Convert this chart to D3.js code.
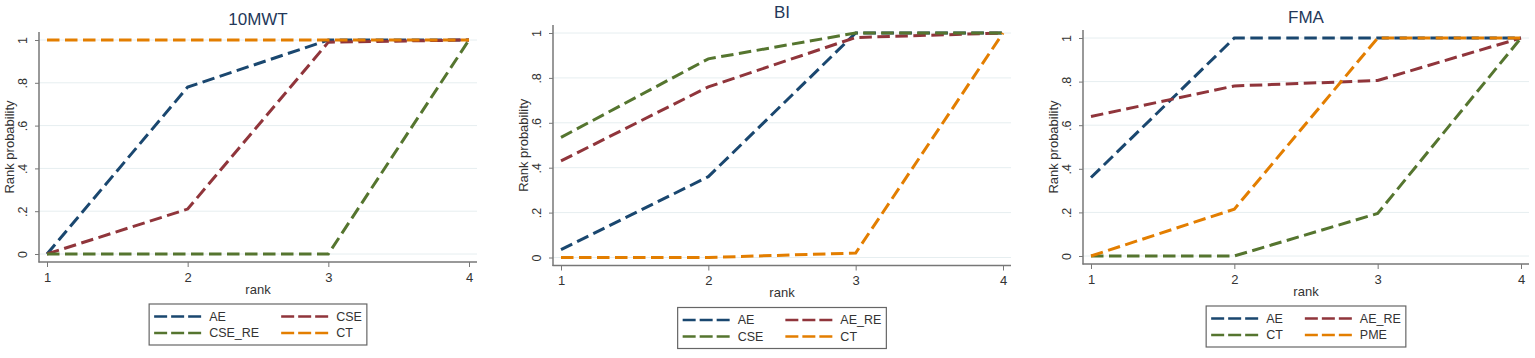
<!DOCTYPE html>
<html>
<head>
  <meta charset="utf-8">
  <title>Rank probability</title>
  <script src="https://cdn.jsdelivr.net/npm/d3@7"></script>
  <style>
    body { margin: 0; background: #fff; }
    text { font-family: "Liberation Sans", Arial, sans-serif; fill: #333; }
    .title { font-size: 17px; fill: #24385a; }
    .grid line { stroke: #e6eef0; stroke-width: 1; }
  </style>
</head>
<body>
  <svg id="chart" width="1535" height="358"></svg>

  <script>
    // data
    var ranks = [1, 2, 3, 4];
    var yTicks = [0, 0.2, 0.4, 0.6, 0.8, 1];
    var yTickLabels = ["0", ".2", ".4", ".6", ".8", "1"];
    var titles = ["10MWT", "BI", "FMA"];

    var mwtNames = ["AE", "CSE", "CSE_RE", "CT"];
    var mwtAE = [0, 0.78, 1, 1];
    var mwtCSE = [0, 0.21, 0.99, 1];
    var mwtCSE_RE = [0, 0, 0, 1];
    var mwtCT = [1, 1, 1, 1];

    var biNames = ["AE", "AE_RE", "CSE", "CT"];
    var biAE = [0.035, 0.36, 1, 1];
    var biAE_RE = [0.43, 0.76, 0.98, 1];
    var biCSE = [0.535, 0.885, 1, 1];
    var biCT = [0, 0, 0.02, 1];

    var fmaNames = ["AE", "AE_RE", "CT", "PME"];
    var fmaAE = [0.36, 1, 1, 1];
    var fmaAE_RE = [0.64, 0.78, 0.805, 1];
    var fmaCT = [0, 0, 0.195, 1];
    var fmaPME = [0, 0.215, 1, 1];

    var colors = ["#1a476f", "#90353b", "#55752f", "#e37e00"];

    // panel frames (plot region boxes)
    var panels = [
      { title: titles[0], names: mwtNames, series: [mwtAE, mwtCSE, mwtCSE_RE, mwtCT], left: 39, right: 477, top: 32, bottom: 262 },
      { title: titles[1], names: biNames, series: [biAE, biAE_RE, biCSE, biCT], left: 553, right: 1011, top: 25, bottom: 265.5 },
      { title: titles[2], names: fmaNames, series: [fmaAE, fmaAE_RE, fmaCT, fmaPME], left: 1083, right: 1529, top: 30, bottom: 264 }
    ];

    var svg = d3.select("#chart");
    var pad = 8;

    panels.forEach(function (p) {
      var g = svg.append("g");

      var x = d3.scaleLinear().domain([1, 4]).range([p.left + pad, p.right - pad]);
      var y = d3.scaleLinear().domain([0, 1]).range([p.bottom - pad, p.top + pad]);

      // gridlines
      g.append("g").attr("class", "grid")
        .selectAll("line")
        .data(yTicks)
        .enter().append("line")
        .attr("x1", p.left).attr("x2", p.right)
        .attr("y1", d => y(d)).attr("y2", d => y(d));

      // axes
      var yAxis = d3.axisLeft(y).tickValues(yTicks)
        .tickFormat((d, i) => yTickLabels[i]).tickSize(4).tickPadding(3);
      var xAxis = d3.axisBottom(x).tickValues(ranks)
        .tickFormat(d3.format("d")).tickSize(5).tickPadding(4);

      var ya = g.append("g").attr("transform", "translate(" + p.left + ",0)").call(yAxis);
      ya.select(".domain").remove();
      ya.selectAll(".tick line").attr("stroke", "#777");
      ya.selectAll(".tick text")
        .style("font-size", "12.5px")
        .attr("text-anchor", "middle")
        .attr("x", null).attr("dy", null)
        .attr("transform", "translate(-12,0) rotate(-90)")
        .attr("y", 0);

      var xa = g.append("g").attr("transform", "translate(0," + p.bottom + ")").call(xAxis);
      xa.select(".domain").remove();
      xa.selectAll(".tick line").attr("stroke", "#777");
      xa.selectAll(".tick text").style("font-size", "13px").attr("dy", null).attr("y", 19.5);

      // axis lines
      g.append("line").attr("x1", p.left).attr("x2", p.left)
        .attr("y1", p.top).attr("y2", p.bottom + 0.5)
        .attr("stroke", "#777").attr("stroke-width", 1.5);
      g.append("line").attr("x1", p.left - 0.5).attr("x2", p.right)
        .attr("y1", p.bottom).attr("y2", p.bottom)
        .attr("stroke", "#777").attr("stroke-width", 1.5);

      // series
      var line = d3.line().x((d, i) => x(ranks[i])).y(d => y(d));
      p.series.forEach(function (s, i) {
        g.append("path")
          .attr("d", line(s))
          .attr("fill", "none")
          .attr("stroke", colors[i])
          .attr("stroke-width", 3)
          .attr("stroke-dasharray", "12.5,5.5");
      });

      // title and axis titles
      var cx = (p.left + p.right) / 2;
      g.append("text").attr("class", "title")
        .attr("x", cx).attr("y", p.top - 7)
        .attr("text-anchor", "middle").text(p.title);

      g.append("text")
        .attr("x", cx).attr("y", p.bottom + 31.5)
        .attr("text-anchor", "middle").style("font-size", "13px").text("rank");

      g.append("text")
        .attr("transform", "translate(" + (p.left - 25) + "," + ((p.top + p.bottom) / 2) + ") rotate(-90)")
        .attr("text-anchor", "middle").style("font-size", "13px").text("Rank probability");

      // legend
      var lg = g.append("g");
      var keyLen = 47, keyGap = 8, colGap = 22;
      var items = lg.selectAll("g.item")
        .data(p.names)
        .enter().append("g").attr("class", "item");
      var labels = items.append("text")
        .style("font-size", "12.5px")
        .attr("dy", "0.35em")
        .text(d => d);
      var widths = [];
      labels.each(function (d, i) { widths[i] = this.getComputedTextLength(); });
      var col1 = Math.max(widths[0], widths[2]);
      var col2 = Math.max(widths[1], widths[3]);
      var boxW = 5 + keyLen + keyGap + col1 + colGap + keyLen + keyGap + col2 + 5;
      var boxH = 41;
      var bx = cx - boxW / 2, by = p.bottom + 42;

      lg.insert("rect", ":first-child")
        .attr("x", bx).attr("y", by).attr("width", boxW).attr("height", boxH)
        .attr("fill", "#fff").attr("stroke", "#666").attr("stroke-width", 1.2);

      items.attr("transform", function (d, i) {
        var col = i % 2, row = Math.floor(i / 2);
        var ix = bx + 5 + (col === 1 ? keyLen + keyGap + col1 + colGap : 0);
        var iy = by + 12.5 + row * 16.5;
        return "translate(" + ix + "," + iy + ")";
      });
      items.insert("line", "text")
        .attr("x1", 0).attr("x2", keyLen)
        .attr("stroke", (d, i) => colors[i])
        .attr("stroke-width", 2.5)
        .attr("stroke-dasharray", "13,4");
      labels.attr("x", keyLen + keyGap);
    });
  </script>
</body>
</html>
